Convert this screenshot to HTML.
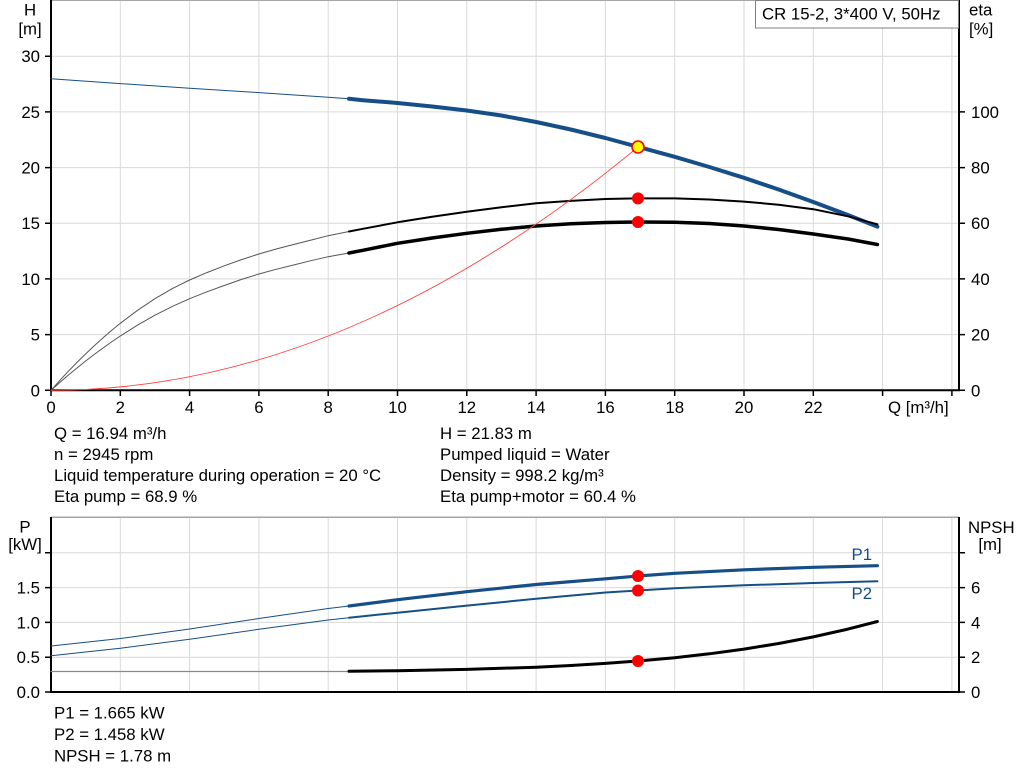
<!DOCTYPE html>
<html><head><meta charset="utf-8"><style>
html,body{margin:0;padding:0;background:#fff;}
svg{display:block;}
text{font-family:"Liberation Sans",Arial,sans-serif;font-size:16.8px;fill:#000;}
</style></head><body>
<svg width="1024" height="781" viewBox="0 0 1024 781" xmlns="http://www.w3.org/2000/svg">
<rect width="1024" height="781" fill="#fff"/>
<!-- TOP CHART grid -->
<g stroke="#d9d9d9" stroke-width="1" fill="none">
<path d="M120.3,0V390M189.6,0V390M258.9,0V390M328.2,0V390M397.5,0V390M466.8,0V390M536.1,0V390M605.4,0V390M674.7,0V390M744,0V390M813.3,0V390M882.6,0V390M951.9,0V390"/>
<path d="M51,334.6H959M51,278.9H959M51,223.2H959M51,167.6H959M51,111.9H959M51,56.2H959"/>
</g>
<line x1="51" y1="0.5" x2="959" y2="0.5" stroke="#a6a6a6" stroke-width="1"/>
<!-- axes -->
<g stroke="#000" stroke-width="2" fill="none">
<path d="M51,0V391M50,390.3H960M959,0V391"/>
</g>
<g stroke="#000" stroke-width="1.5">
<path d="M45,390.3H51M45,334.6H51M45,278.9H51M45,223.2H51M45,167.6H51M45,111.9H51M45,56.2H51"/>
<path d="M959,390.3H965M959,334.6H965M959,278.9H965M959,223.2H965M959,167.6H965M959,111.9H965"/>
<path d="M51,390V396M120.3,390V396M189.6,390V396M258.9,390V396M328.2,390V396M397.5,390V396M466.8,390V396M536.1,390V396M605.4,390V396M674.7,390V396M744,390V396M813.3,390V396M882.6,390V396M951.9,390V396"/>
</g>
<!-- labels -->
<text x="30" y="15.5" text-anchor="middle">H</text>
<text x="30" y="34.5" text-anchor="middle">[m]</text>
<g text-anchor="end">
<text x="40" y="396.3">0</text>
<text x="40" y="340.6">5</text>
<text x="40" y="284.9">10</text>
<text x="40" y="229.2">15</text>
<text x="40" y="173.6">20</text>
<text x="40" y="117.9">25</text>
<text x="40" y="62.2">30</text>
</g>
<text x="969" y="15.5">eta</text>
<text x="969" y="34.5">[%]</text>
<g>
<text x="971" y="396.3">0</text>
<text x="971" y="340.6">20</text>
<text x="971" y="284.9">40</text>
<text x="971" y="229.2">60</text>
<text x="971" y="173.6">80</text>
<text x="971" y="117.9">100</text>
</g>
<g text-anchor="middle">
<text x="51" y="413">0</text>
<text x="120.3" y="413">2</text>
<text x="189.6" y="413">4</text>
<text x="258.9" y="413">6</text>
<text x="328.2" y="413">8</text>
<text x="397.5" y="413">10</text>
<text x="466.8" y="413">12</text>
<text x="536.1" y="413">14</text>
<text x="605.4" y="413">16</text>
<text x="674.7" y="413">18</text>
<text x="744" y="413">20</text>
<text x="813.3" y="413">22</text>
</g>
<text x="888" y="413">Q [m³/h]</text>
<!-- legend box -->
<rect x="755.5" y="0.5" width="203" height="27.5" fill="#fff" stroke="#808080" stroke-width="1"/>
<text x="762" y="19.5">CR 15-2, 3*400 V, 50Hz</text>
<!-- curves top -->
<g fill="none" stroke-linejoin="round" stroke-linecap="round">
<polyline stroke="#164f88" stroke-width="1" points="51,78.7 120.3,83.6 189.6,88.2 258.9,92.6 328.2,97.2 349,98.8"/>
<polyline stroke="#164f88" stroke-width="4" points="349,98.8 362.85,100.2 397.5,103 432.15,106.5 466.8,110.5 501.45,115.5 536.1,122 570.75,129.5 605.4,138 637.97,146.8 674.7,156.8 709.35,167 744,177.8 778.65,189.5 813.3,202 847.95,215 877.4,226.7"/>
<polyline stroke="#555" stroke-width="1" points="51,390.3 59.7,380.6 68.3,371.3 77,362.4 85.65,353.9 94.3,345.7 103,337.9 111.6,330.4 120.3,323.3 137.6,310.3 154.95,298.7 172.3,288.6 189.6,280 206.9,272.6 224.25,265.8 241.6,259.6 258.9,254 276.2,249 293.55,244.5 310.9,240.1 328.2,235.7 349,231.5"/>
<polyline stroke="#000" stroke-width="2" points="349,231.5 362.85,228.8 397.5,222.3 432.15,216.8 466.8,211.7 501.45,207.2 536.1,203.3 570.75,200.9 605.4,199 637.97,198.4 674.7,198.4 709.35,199.5 744,201.6 778.65,204.7 813.3,209.2 847.95,216.3 877.4,224.3"/>
<polyline stroke="#555" stroke-width="1" points="51,390.3 59.7,382.6 68.3,375.1 77,368 85.65,361 94.3,354.4 103,348 111.6,341.9 120.3,336 137.6,325.1 154.95,315.2 172.3,306.4 189.6,298.7 206.9,291.8 224.25,285.5 241.6,279.4 258.9,274 276.2,269.3 293.55,265 310.9,260.7 328.2,256.7 349,253"/>
<polyline stroke="#000" stroke-width="3.5" points="349,253 362.85,250.3 397.5,243.3 432.15,238 466.8,233.3 501.45,229.3 536.1,226 570.75,223.8 605.4,222.5 637.97,222 674.7,222.2 709.35,223.5 744,226 778.65,229.5 813.3,234 847.95,239 877.4,244.5"/>
<path d="M51,390.3 Q344.5,390.3 638,147" stroke="#ff4040" stroke-width="0.9"/>
</g>
<circle cx="638" cy="198.4" r="6" fill="#ff0000"/>
<circle cx="638" cy="222" r="6" fill="#ff0000"/>
<circle cx="638" cy="147" r="6" fill="#ffff00" stroke="#ff0000" stroke-width="1.6"/>
<!-- info text -->
<text x="54" y="439">Q = 16.94 m³/h</text>
<text x="54" y="460">n = 2945 rpm</text>
<text x="54" y="481">Liquid temperature during operation = 20 °C</text>
<text x="54" y="502">Eta pump = 68.9 %</text>
<text x="440" y="439">H = 21.83 m</text>
<text x="440" y="460">Pumped liquid = Water</text>
<text x="440" y="481">Density = 998.2 kg/m³</text>
<text x="440" y="502">Eta pump+motor = 60.4 %</text>
<!-- BOTTOM CHART -->
<g stroke="#d9d9d9" stroke-width="1" fill="none">
<path d="M120.3,517V692M189.6,517V692M258.9,517V692M328.2,517V692M397.5,517V692M466.8,517V692M536.1,517V692M605.4,517V692M674.7,517V692M744,517V692M813.3,517V692M882.6,517V692M951.9,517V692"/>
<path d="M51,552.8H959M51,587.6H959M51,622.4H959M51,657.2H959"/>
</g>
<line x1="51" y1="517.3" x2="959" y2="517.3" stroke="#a6a6a6" stroke-width="1.5"/>
<g stroke="#000" stroke-width="2" fill="none">
<path d="M51,517V693M50,692H960M959,517V693"/>
</g>
<g stroke="#000" stroke-width="1.5">
<path d="M45,692H51M45,657.2H51M45,622.4H51M45,587.6H51M45,552.8H51"/>
<path d="M959,692H965M959,657.2H965M959,622.4H965M959,587.6H965M959,552.8H965"/>
</g>
<text x="25" y="532.7" text-anchor="middle">P</text>
<text x="25" y="550" text-anchor="middle">[kW]</text>
<g text-anchor="end">
<text x="40" y="593.6">1.5</text>
<text x="40" y="628.4">1.0</text>
<text x="40" y="663.2">0.5</text>
<text x="40" y="698">0.0</text>
</g>
<text x="968" y="533">NPSH</text>
<text x="990" y="550" text-anchor="middle">[m]</text>
<text x="971" y="593.6">6</text>
<text x="971" y="628.4">4</text>
<text x="971" y="663.2">2</text>
<text x="971" y="698">0</text>
<g fill="none" stroke-linejoin="round" stroke-linecap="round">
<polyline stroke="#164f88" stroke-width="1" points="51,646 120.3,638.5 189.6,629 258.9,618.5 328.2,608.5 349,606"/>
<polyline stroke="#164f88" stroke-width="3.2" points="349,606 397.5,599.7 466.8,591.7 536.1,584.5 605.4,578.8 637.97,576 674.7,573.3 744,569.8 813.3,567.3 877.4,565.7"/>
<polyline stroke="#164f88" stroke-width="1" points="51,655.7 120.3,648.3 189.6,639.3 258.9,629.3 328.2,620 349,617.7"/>
<polyline stroke="#164f88" stroke-width="2" points="349,617.7 397.5,612.7 466.8,605.6 536.1,598.8 605.4,592.5 637.97,590.5 674.7,588.3 744,585.3 813.3,583 877.4,581.3"/>
<line x1="51" y1="671.5" x2="349" y2="671.5" stroke="#888" stroke-width="1.2"/>
<polyline stroke="#000" stroke-width="3" points="349,671.3 397.5,670.7 466.8,669.4 536.1,667.2 570.75,665.5 605.4,663.4 637.97,661 674.7,657.7 709.35,653.8 744,649.1 778.65,643.5 813.3,636.9 847.95,629.1 877.4,621.5"/>
</g>
<circle cx="638" cy="576" r="6" fill="#ff0000"/>
<circle cx="638" cy="590.5" r="6" fill="#ff0000"/>
<circle cx="638" cy="661" r="6" fill="#ff0000"/>
<text x="851.5" y="560" style="fill:#164f88">P1</text>
<text x="851.5" y="599" style="fill:#164f88">P2</text>
<text x="54" y="718.5">P1 = 1.665 kW</text>
<text x="54" y="740">P2 = 1.458 kW</text>
<text x="54" y="761.5">NPSH = 1.78 m</text>
</svg>
</body></html>
